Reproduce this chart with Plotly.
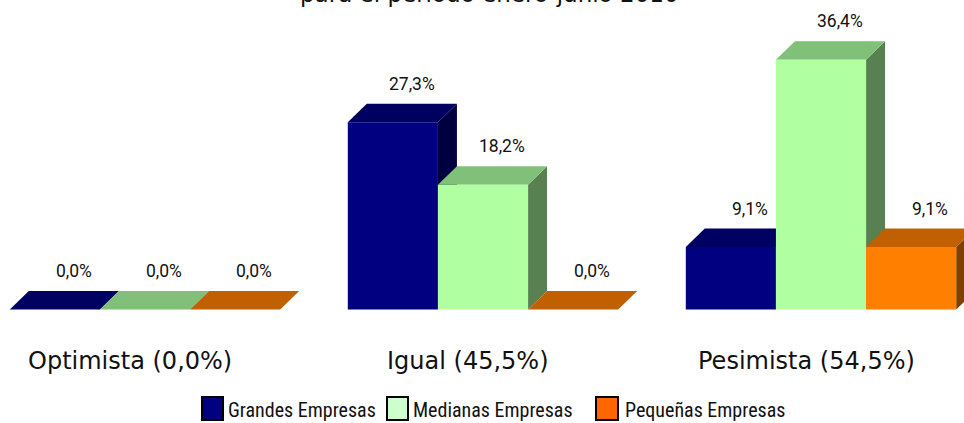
import plotly.graph_objects as go

# ---- data ----
categories = ["Optimista (0,0%)", "Igual (45,5%)", "Pesimista (54,5%)"]
series_names = ["Grandes Empresas", "Medianas Empresas", "Pequeñas Empresas"]
grandes = [0.0, 27.3, 9.1]
medianas = [0.0, 18.2, 36.4]
pequenas = [0.0, 0.0, 9.1]
title_line = "para el período enero-junio 2010"

# ---- styles ----
front_colors = ["#000080", "#B0FFA0", "#FF8000"]
top_colors = ["#000060", "#80C078", "#C06000"]
side_colors = ["#000040", "#588050", "#804000"]
legend_colors = ["#000080", "#CCFFCC", "#FF6600"]

W, H = 964, 423
PX_X = 338.0   # pixels per category
X0 = 145.0     # pixel of first category centre
PX_Y = 6.86    # pixels per percent
Y0 = 309.5     # pixel of baseline
x_range = [-X0 / PX_X, (W - X0) / PX_X]
y_range = [-(H - Y0) / PX_Y, Y0 / PX_Y]
bar_w = 0.8 / 3
dx = 19.0 / PX_X
dy = 18.5 / PX_Y

series_values = [grandes, medianas, pequenas]
xpos = list(range(len(categories)))

label_font = dict(family="Roboto, sans-serif", size=17.5, color="#111111")
cat_font = dict(family="DejaVu Sans, sans-serif", size=24, color="#111111")
legend_font = dict(family="Liberation Sans Narrow, Arial Narrow, Roboto Condensed, Roboto, sans-serif",
                   size=20, color="#111111")

fig = go.Figure()
shapes = []
annotations = []

for i, (name, vals) in enumerate(zip(series_names, series_values)):
    fig.add_trace(go.Bar(
        x=xpos, y=vals, name=name,
        marker=dict(color=front_colors[i], line=dict(width=0)),
        showlegend=False, hoverinfo="skip",
    ))

# 3D faces (side + top), drawn in series order below the fronts
for j in xpos:
    for i, vals in enumerate(series_values):
        v = vals[j]
        left = j + (i - 1) * bar_w - bar_w / 2
        right = left + bar_w
        side = (f"M {right},0 L {right},{v} L {right+dx},{v+dy} "
                f"L {right+dx},{dy} Z")
        top = (f"M {left},{v} L {right},{v} L {right+dx},{v+dy} "
               f"L {left+dx},{v+dy} Z")
        if v > 0:
            shapes.append(dict(type="path", path=side, xref="x", yref="y",
                               fillcolor=side_colors[i], line=dict(width=0), layer="below"))
        shapes.append(dict(type="path", path=top, xref="x", yref="y",
                           fillcolor=top_colors[i], line=dict(width=0), layer="below"))
        # value label
        annotations.append(dict(
            x=(left + right) / 2 + dx, y=v + dy, xref="x", yref="y",
            text=f"{v:.1f}%".replace(".", ","), showarrow=False,
            yanchor="middle", xanchor="center", yshift=20, font=label_font))

# category labels
for j, cat in enumerate(categories):
    annotations.append(dict(
        x=j, y=1 - 361 / H, xref="x", yref="paper", text=cat, showarrow=False,
        xanchor="center", yanchor="middle", xshift=-15, font=cat_font))

# title (second line, cut by the top edge)
annotations.append(dict(
    x=489 / W, y=1, xref="paper", yref="paper", text=title_line,
    showarrow=False, xanchor="center", yanchor="bottom", yshift=-9,
    font=dict(family="DejaVu Sans, sans-serif", size=23, color="#111111")))

# manual legend
leg_boxes = [(202, 223), (387, 408), (596, 618)]
leg_text_x = [226, 411, 623]
for i, name in enumerate(series_names):
    x0, x1 = leg_boxes[i]
    shapes.append(dict(type="rect", xref="paper", yref="paper",
                       x0=x0 / W, x1=x1 / W, y0=1 - 420 / H, y1=1 - 397 / H,
                       fillcolor=legend_colors[i], line=dict(color="#000000", width=2),
                       layer="above"))
    annotations.append(dict(
        x=leg_text_x[i] / W, y=1 - 410 / H, xref="paper", yref="paper", text=name,
        showarrow=False, xanchor="left", yanchor="middle", font=legend_font))

fig.update_layout(
    width=W, height=H,
    margin=dict(l=0, r=0, t=0, b=0, pad=0),
    barmode="group", bargap=0.2, bargroupgap=0,
    paper_bgcolor="white", plot_bgcolor="white",
    xaxis=dict(range=x_range, visible=False, fixedrange=True),
    yaxis=dict(range=y_range, visible=False, fixedrange=True),
    shapes=shapes, annotations=annotations,
    showlegend=False,
)

fig.write_html(
    "out.html",
    config={"displayModeBar": False},
    post_script="document.body.style.margin='0';document.body.style.overflow='hidden';",
)
